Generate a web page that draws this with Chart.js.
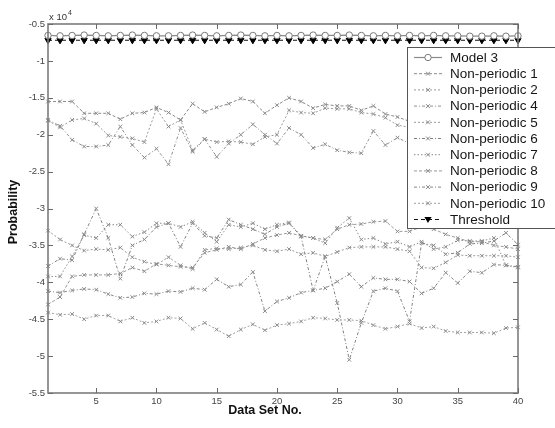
<!DOCTYPE html>
<html><head><meta charset="utf-8">
<script src="https://cdn.jsdelivr.net/npm/chart.js@4"></script>
<style>html,body{margin:0;padding:0;background:#fff}#wrap{width:555px;height:428px;position:relative}</style>
</head><body><div id="wrap"><canvas id="c" width="555" height="428"></canvas></div>
<script>
const categories = [1,2,3,4,5,6,7,8,9,10,11,12,13,14,15,16,17,18,19,20,21,22,23,24,25,26,27,28,29,30,31,32,33,34,35,36,37,38,39,40];
const model3 = [-0.655,-0.66,-0.655,-0.65,-0.655,-0.66,-0.655,-0.65,-0.655,-0.66,-0.66,-0.655,-0.65,-0.655,-0.66,-0.655,-0.65,-0.655,-0.66,-0.655,-0.66,-0.655,-0.65,-0.655,-0.655,-0.65,-0.655,-0.66,-0.655,-0.66,-0.655,-0.66,-0.655,-0.66,-0.66,-0.665,-0.665,-0.66,-0.665,-0.66];
const np1 = [-1.55,-1.55,-1.55,-1.71,-1.71,-1.71,-1.79,-1.71,-1.70,-1.63,-1.70,-1.80,-1.58,-1.69,-1.63,-1.58,-1.51,-1.55,-1.71,-1.60,-1.50,-1.55,-1.64,-1.59,-1.61,-1.61,-1.67,-1.61,-1.72,-1.76,-1.82,-1.85,-1.78,-1.80,-1.74,-1.76,-1.80,-1.77,-1.72,-1.75];
const np2 = [-1.81,-1.90,-1.80,-1.78,-1.85,-2.01,-2.03,-2.05,-2.10,-1.65,-1.89,-1.80,-2.21,-2.06,-2.10,-2.09,-2.10,-2.13,-2.03,-2.00,-1.67,-1.70,-1.71,-1.64,-1.65,-1.65,-1.70,-1.72,-1.77,-1.87,-1.90,-1.95,-1.88,-1.92,-1.85,-1.90,-1.95,-1.88,-1.86,-1.90];
const np4 = [-1.80,-1.88,-2.07,-2.16,-2.16,-2.14,-1.89,-2.14,-2.31,-2.19,-2.40,-1.91,-2.23,-2.06,-2.30,-2.12,-2.00,-1.86,-2.00,-2.12,-1.91,-2.00,-2.18,-2.13,-2.21,-2.24,-2.25,-1.95,-2.14,-2.04,-2.12,-2.08,-2.15,-2.10,-2.05,-2.12,-2.18,-2.10,-2.06,-2.10];
const np5 = [-3.30,-3.42,-3.50,-3.57,-3.55,-3.56,-3.53,-3.66,-3.72,-3.76,-3.66,-3.77,-3.82,-3.56,-3.54,-3.55,-3.53,-3.50,-3.56,-3.58,-3.55,-3.62,-3.60,-3.65,-3.59,-3.53,-3.52,-3.52,-3.52,-3.55,-3.58,-3.80,-3.81,-3.73,-3.63,-3.64,-3.64,-3.64,-3.64,-3.66];
const np6 = [-3.78,-3.68,-3.70,-3.35,-3.00,-3.40,-3.95,-3.50,-3.42,-3.25,-3.20,-3.52,-3.20,-3.37,-3.40,-3.15,-3.22,-3.28,-3.35,-3.25,-3.20,-3.38,-4.11,-3.65,-4.28,-5.05,-4.55,-4.12,-4.08,-4.12,-4.53,-3.47,-3.50,-3.62,-3.60,-3.48,-3.47,-3.44,-3.33,-3.49];
const np7 = [-3.92,-3.92,-3.65,-3.36,-3.40,-3.22,-3.22,-3.38,-3.32,-3.20,-3.20,-3.25,-3.18,-3.33,-3.45,-3.22,-3.25,-3.20,-3.28,-3.22,-3.19,-3.37,-3.40,-3.47,-3.26,-3.13,-3.42,-3.40,-3.48,-3.45,-3.52,-3.45,-3.55,-3.52,-3.43,-3.44,-3.44,-3.40,-3.77,-3.80];
const np8 = [-4.30,-4.20,-3.92,-3.90,-3.90,-3.90,-3.88,-3.80,-3.85,-3.75,-3.77,-3.79,-3.80,-3.60,-3.56,-3.52,-3.55,-3.48,-3.40,-3.36,-3.33,-3.37,-3.40,-3.42,-3.28,-3.22,-3.21,-3.18,-3.17,-3.31,-3.31,-3.25,-3.28,-3.35,-3.40,-3.45,-3.45,-3.50,-3.52,-3.55];
const np9 = [-4.12,-4.14,-4.11,-4.09,-4.10,-4.16,-4.21,-4.20,-4.15,-4.16,-4.12,-4.13,-4.08,-4.10,-3.96,-4.06,-4.03,-3.86,-4.39,-4.26,-4.21,-4.14,-4.11,-4.08,-3.99,-3.89,-4.06,-3.94,-3.96,-3.96,-3.99,-4.15,-4.08,-3.87,-4.01,-3.85,-3.87,-3.76,-3.77,-3.79];
const np10 = [-4.41,-4.44,-4.43,-4.50,-4.45,-4.45,-4.53,-4.48,-4.55,-4.53,-4.48,-4.49,-4.63,-4.55,-4.64,-4.73,-4.64,-4.57,-4.65,-4.58,-4.56,-4.53,-4.48,-4.49,-4.51,-4.51,-4.52,-4.58,-4.63,-4.60,-4.56,-4.62,-4.60,-4.66,-4.68,-4.68,-4.68,-4.69,-4.62,-4.61];
const threshold = [-0.72,-0.72,-0.72,-0.72,-0.72,-0.72,-0.72,-0.72,-0.72,-0.72,-0.72,-0.72,-0.72,-0.72,-0.72,-0.72,-0.72,-0.72,-0.72,-0.72,-0.72,-0.72,-0.72,-0.72,-0.72,-0.72,-0.72,-0.72,-0.72,-0.72,-0.72,-0.72,-0.72,-0.72,-0.72,-0.72,-0.72,-0.72,-0.72,-0.72];
const seriesNames = ['Model 3','Non-periodic 1','Non-periodic 2','Non-periodic 4','Non-periodic 5','Non-periodic 6','Non-periodic 7','Non-periodic 8','Non-periodic 9','Non-periodic 10','Threshold'];
const xTicks = [5,10,15,20,25,30,35,40];
const yTicks = [-5.5,-5,-4.5,-4,-3.5,-3,-2.5,-2,-1.5,-1,-0.5];
const yTickLabels = ['-5.5','-5','-4.5','-4','-3.5','-3','-2.5','-2','-1.5','-1','-0.5'];

const FONT = '"Liberation Sans", Arial, sans-serif';
const toPts = arr => arr.map((v, i) => ({x: categories[i], y: v}));
const npStyles = [
  {c:'#8a8a8a', d:[3,2]}, {c:'#9a9a9a', d:[2,2]}, {c:'#8f8f8f', d:[3,2,1,2]},
  {c:'#999999', d:[2,2]}, {c:'#808080', d:[3,2,1,2]}, {c:'#8a8a8a', d:[1.5,2]},
  {c:'#9a9a9a', d:[3,2]}, {c:'#858585', d:[3,2,1,2]}, {c:'#a0a0a0', d:[2,2]}
];
const npData = [np1,np2,np4,np5,np6,np7,np8,np9,np10];
const datasets = [];
datasets.push({label: seriesNames[0], data: toPts(model3), borderColor:'#8a8a8a', borderWidth:1.2,
  pointStyle:'circle', pointRadius:3.2, pointBackgroundColor:'#ffffff', pointBorderColor:'#7a7a7a', pointBorderWidth:1, _dash:[]});
npData.forEach((d, k) => {
  datasets.push({label: seriesNames[k+1], data: toPts(d), borderColor: npStyles[k].c, borderWidth:1,
    borderDash: npStyles[k].d, pointStyle:'crossRot', pointRadius:2.6, pointBorderColor:'#8a8a8a', pointBorderWidth:1, _dash:npStyles[k].d});
});
datasets.push({label: seriesNames[10], data: toPts(threshold), borderColor:'#111111', borderWidth:1.2, borderDash:[4,3],
  pointStyle:'triangle', rotation:180, pointRadius:3.6, pointBackgroundColor:'#000', pointBorderColor:'#000', pointBorderWidth:1, _dash:[4,3]});
datasets.forEach(d => { d.clip = false; d.tension = 0; d.fill = false; });

const framePlugin = {
  id: 'frame',
  afterDatasetsDraw(chart) {
    const {ctx, chartArea: a, scales: {x, y}} = chart;
    ctx.save();
    ctx.strokeStyle = '#7c7c7c';
    ctx.lineWidth = 1.6;
    ctx.strokeRect(a.left, a.top, a.right - a.left, a.bottom - a.top);
    ctx.lineWidth = 1;
    ctx.strokeStyle = '#6a6a6a';
    ctx.beginPath();
    xTicks.forEach(v => { const px = Math.round(x.getPixelForValue(v)) + 0.5;
      ctx.moveTo(px, a.bottom); ctx.lineTo(px, a.bottom - 5);
      ctx.moveTo(px, a.top); ctx.lineTo(px, a.top + 5); });
    yTicks.forEach(v => { const py = Math.round(y.getPixelForValue(v)) + 0.5;
      ctx.moveTo(a.left, py); ctx.lineTo(a.left + 5, py);
      ctx.moveTo(a.right, py); ctx.lineTo(a.right - 5, py); });
    ctx.stroke();
    // exponent
    ctx.fillStyle = '#333';
    ctx.font = '9.5px ' + FONT;
    ctx.textBaseline = 'alphabetic';
    ctx.textAlign = 'left';
    ctx.fillText('x 10', a.left + 1, a.top - 4);
    ctx.font = '7px ' + FONT;
    ctx.fillText('4', a.left + 20, a.top - 9);
    // axis titles
    ctx.fillStyle = '#111';
    ctx.font = 'bold 12.5px ' + FONT;
    ctx.textAlign = 'center';
    ctx.textBaseline = 'middle';
    ctx.fillText('Data Set No.', 265, 411);
    ctx.translate(14, 212);
    ctx.rotate(-Math.PI / 2);
    ctx.fillText('Probability', 0, 0);
    ctx.restore();
  },
  afterDraw(chart) {
    const ctx = chart.ctx;
    ctx.save();
    ctx.fillStyle = '#fff';
    ctx.fillRect(407.5, 47.5, 160, 181);
    ctx.strokeStyle = '#555';
    ctx.lineWidth = 1;
    ctx.strokeRect(407.5, 47.5, 160, 181);
    chart.data.datasets.forEach((ds, k) => {
      const yy = 57.5 + k * 16.2;
      ctx.strokeStyle = ds.borderColor;
      ctx.lineWidth = ds.borderWidth;
      ctx.setLineDash(ds._dash);
      ctx.beginPath(); ctx.moveTo(414, yy); ctx.lineTo(442, yy); ctx.stroke();
      ctx.setLineDash([]);
      const cx = 428, r = ds.pointRadius;
      ctx.lineWidth = 1;
      ctx.strokeStyle = ds.pointBorderColor;
      if (ds.pointStyle === 'circle') {
        ctx.fillStyle = '#fff';
        ctx.beginPath(); ctx.arc(cx, yy, r, 0, Math.PI * 2); ctx.fill(); ctx.stroke();
      } else if (ds.pointStyle === 'crossRot') {
        const s = r * 0.75;
        ctx.beginPath(); ctx.moveTo(cx - s, yy - s); ctx.lineTo(cx + s, yy + s);
        ctx.moveTo(cx - s, yy + s); ctx.lineTo(cx + s, yy - s); ctx.stroke();
      } else {
        ctx.fillStyle = '#000';
        ctx.beginPath(); ctx.moveTo(cx - r, yy - r * 0.7); ctx.lineTo(cx + r, yy - r * 0.7); ctx.lineTo(cx, yy + r); ctx.closePath(); ctx.fill();
      }
      ctx.fillStyle = '#161616';
      ctx.font = '13.5px ' + FONT;
      ctx.textAlign = 'left';
      ctx.textBaseline = 'middle';
      ctx.fillText(ds.label, 450, yy + 0.5);
    });
    ctx.restore();
  }
};

new Chart(document.getElementById('c'), {
  type: 'line',
  data: { datasets },
  options: {
    responsive: false, animation: false, devicePixelRatio: 1,
    layout: { padding: { left: 0, top: 24, right: 37, bottom: 0 } },
    plugins: { legend: { display: false }, tooltip: { enabled: false }, title: { display: false } },
    scales: {
      x: { type: 'linear', min: 1, max: 40,
        afterBuildTicks: s => { s.ticks = xTicks.map(v => ({ value: v })); },
        afterFit: s => { s.height = 35; },
        grid: { display: false, drawTicks: false }, border: { display: false },
        ticks: { autoSkip: false, maxRotation: 0, padding: 3, color: '#444', font: { family: FONT, size: 9.5 }, callback: v => String(v) } },
      y: { type: 'linear', min: -5.5, max: -0.5,
        afterBuildTicks: s => { s.ticks = yTicks.map(v => ({ value: v })); },
        afterFit: s => { s.width = 48; },
        grid: { display: false, drawTicks: false }, border: { display: false },
        ticks: { autoSkip: false, padding: 3, color: '#444', font: { family: FONT, size: 9.5 }, callback: v => yTickLabels[yTicks.indexOf(v)] } }
    }
  },
  plugins: [framePlugin]
});
</script></body></html>
